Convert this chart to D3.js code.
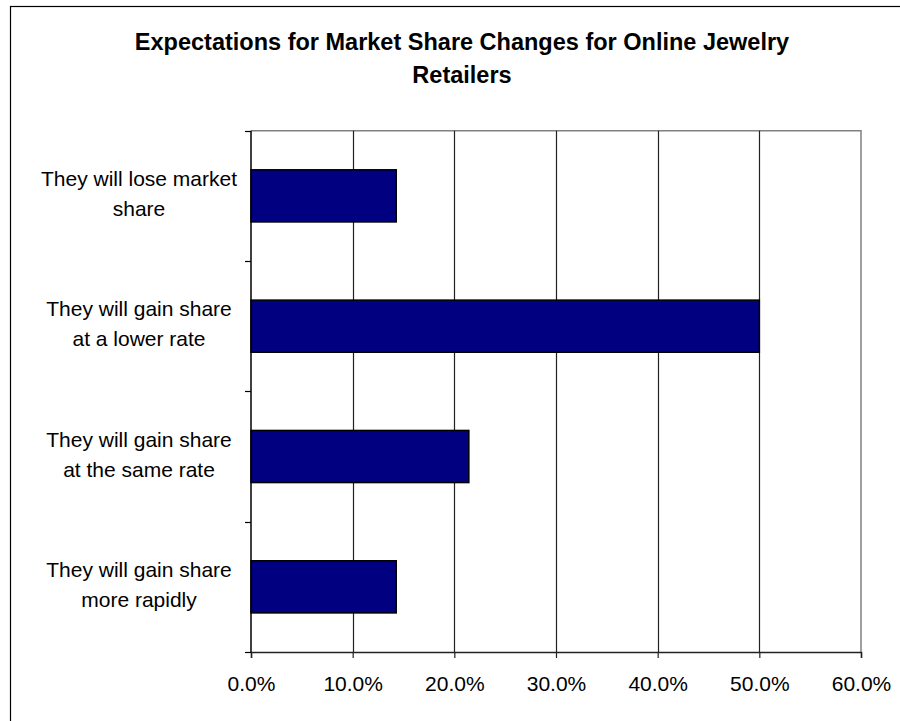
<!DOCTYPE html>
<html>
<head>
<meta charset="utf-8">
<script src="https://cdn.jsdelivr.net/npm/d3@7"></script>
<style>
  html, body { margin: 0; padding: 0; background: #fff; }
  svg { display: block; font-family: "Liberation Sans", Arial, sans-serif; }
</style>
</head>
<body>
<svg id="chart" width="900" height="721"></svg>
<script>
// Survey responses: share of respondents per expectation
const categories = [
  "They will lose market share",
  "They will gain share at a lower rate",
  "They will gain share at the same rate",
  "They will gain share more rapidly"
];
const shares = [2 / 14, 7 / 14, 3 / 14, 2 / 14];
const xTicks = [0, 0.1, 0.2, 0.3, 0.4, 0.5, 0.6];
const titleLines = ["Expectations for Market Share Changes for Online Jewelry", "Retailers"];

const svg = d3.select("#chart");

// Chart frame
svg.append("rect")
  .attr("x", 10.5).attr("y", 6.5)
  .attr("width", 900).attr("height", 800)
  .attr("fill", "#fff").attr("stroke", "#000").attr("stroke-width", 1.2);

// Title
svg.append("text")
  .attr("text-anchor", "middle")
  .attr("font-weight", "bold")
  .attr("font-size", 23.5)
  .attr("fill", "#000")
  .selectAll("tspan").data(titleLines).join("tspan")
  .attr("x", 462)
  .attr("y", (d, i) => 49.5 + i * 33.3)
  .text(d => d);

const plot = { left: 251, right: 861, top: 130.7, bottom: 652 };

const x = d3.scaleLinear().domain([0, 0.6]).range([plot.left, plot.right]);
const y = d3.scaleBand()
  .domain(categories)
  .range([plot.top, plot.bottom])
  .paddingInner(0.6)
  .paddingOuter(0.3);
const step = y.step();

// Plot area border (top and right)
svg.append("path")
  .attr("d", `M${plot.left},${plot.top}H${plot.right}V${plot.bottom}`)
  .attr("fill", "none").attr("stroke", "#808080").attr("stroke-width", 1.5);

// Vertical gridlines
svg.append("g")
  .selectAll("line").data(xTicks.filter(t => t > 0 && t < 0.6)).join("line")
  .attr("x1", d => Math.round(x(d)) + 0.5).attr("x2", d => Math.round(x(d)) + 0.5)
  .attr("y1", plot.top).attr("y2", plot.bottom)
  .attr("stroke", "#222").attr("stroke-width", 1.2);

// Bars
svg.append("g")
  .selectAll("rect").data(categories).join("rect")
  .attr("x", x(0))
  .attr("y", d => y(d))
  .attr("width", (d, i) => x(shares[i]) - x(0))
  .attr("height", y.bandwidth())
  .attr("fill", "#000080")
  .attr("stroke", "#000").attr("stroke-width", 1.5);

// X axis
const xAxis = d3.axisBottom(x)
  .tickValues(xTicks)
  .tickFormat(d3.format(".1%"))
  .tickSize(6)
  .tickPadding(18);
const gx = svg.append("g")
  .attr("transform", `translate(0,${plot.bottom})`)
  .call(xAxis);
gx.select(".domain").attr("stroke", "#222").attr("stroke-width", 1.5);
gx.selectAll(".tick line").attr("stroke", "#222").attr("stroke-width", 1.2);
gx.selectAll(".tick text")
  .attr("font-family", "Liberation Sans, Arial, sans-serif")
  .attr("font-size", 21).attr("fill", "#000");

// Y axis line with ticks at category boundaries
const yEdges = d3.range(categories.length + 1).map(i => plot.top + i * step);
svg.append("line")
  .attr("x1", plot.left).attr("x2", plot.left)
  .attr("y1", plot.top).attr("y2", plot.bottom)
  .attr("stroke", "#000").attr("stroke-width", 1.5);
svg.append("g")
  .selectAll("line").data(yEdges).join("line")
  .attr("x1", plot.left - 6).attr("x2", plot.left)
  .attr("y1", d => Math.round(d) + 0.5).attr("y2", d => Math.round(d) + 0.5)
  .attr("stroke", "#000").attr("stroke-width", 1.2);

// Category labels, wrapped and centred
const labelFont = 21;
const maxLabelWidth = 205;
const measurer = svg.append("text").attr("font-size", labelFont).attr("visibility", "hidden");
function wrap(str) {
  const words = str.split(" ");
  const lines = [];
  let line = [];
  words.forEach(w => {
    const trial = line.concat(w).join(" ");
    measurer.text(trial);
    if (line.length && measurer.node().getComputedTextLength() > maxLabelWidth) {
      lines.push(line.join(" "));
      line = [w];
    } else {
      line.push(w);
    }
  });
  lines.push(line.join(" "));
  return lines;
}
const labels = svg.append("g")
  .attr("font-size", labelFont).attr("fill", "#000").attr("text-anchor", "middle");
categories.forEach(c => {
  const center = y(c) + y.bandwidth() / 2;
  const lines = wrap(c);
  labels.append("text")
    .selectAll("tspan").data(lines).join("tspan")
    .attr("x", 139)
    .attr("y", (d, i) => center - 10 + i * 30)
    .text(d => d);
});
measurer.remove();
</script>
</body>
</html>
